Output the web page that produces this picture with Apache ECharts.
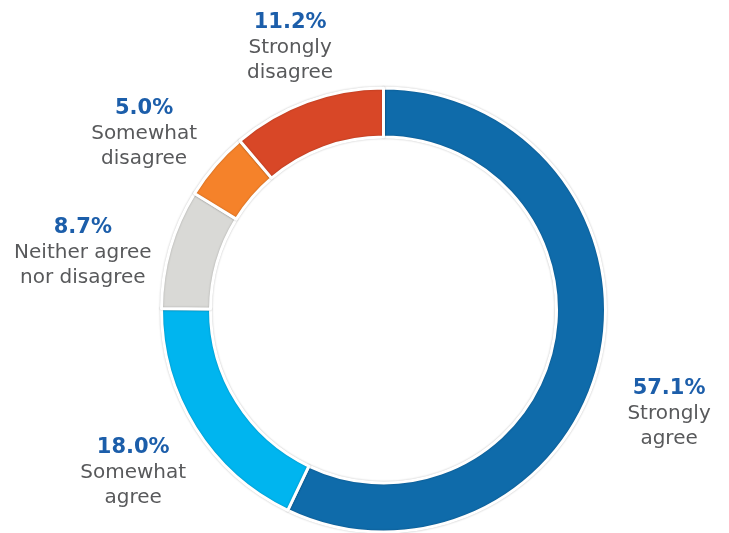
<!DOCTYPE html>
<html><head><meta charset="utf-8">
<script src="https://cdn.jsdelivr.net/npm/echarts@6/dist/echarts.min.js"></script>
<style>html,body{margin:0;padding:0;background:#fff}#c{width:729px;height:533px}</style>
</head><body><div id="c"></div>
<script>
const categories = ['Strongly\nagree', 'Somewhat\nagree', 'Neither agree\nnor disagree', 'Somewhat\ndisagree', 'Strongly\ndisagree'];
const values = [57.1, 18.0, 8.7, 5.0, 11.2];
const colors = ['#0F6BAA', '#00B5EF', '#D9D9D6', '#F5822A', '#D84727'];
// small label nudges (dx, dy) relative to the library's outside label anchor
const labelNudge = [[-7, 37], [4, 3], [-13, 25], [-17, 19], [10, 11]];

const chart = echarts.init(document.getElementById('c'));
chart.setOption({
  animation: false,
  series: [{
    type: 'pie',
    center: [383.5, 310],
    radius: [173, 222],
    startAngle: 90,
    clockwise: true,
    silent: true,
    data: categories.map((c, i) => ({ name: c, value: values[i], itemStyle: { color: colors[i] } })),
    itemStyle: { borderColor: '#fff', borderWidth: 3, shadowBlur: 2, shadowColor: 'rgba(0,0,0,0.25)' },
    labelLine: { show: false, length: 78, length2: 0 },
    label: {
      show: true,
      position: 'outside',
      overflow: 'none',
      distanceToLabelLine: 0,
      formatter: p => '{v|' + p.value.toFixed(1) + '%}\n' + p.name.split('\n').map(s => '{n|' + s + '}').join('\n'),
      rich: {
        v: { fontFamily: 'DejaVu Sans', fontWeight: 'bold', fontSize: 21, color: '#1C5EAA', lineHeight: 26, align: 'center' },
        n: { fontFamily: 'DejaVu Sans', fontSize: 20, color: '#58595B', lineHeight: 25, align: 'center' }
      }
    },
    labelLayout: p => ({ align: 'center', verticalAlign: 'middle', dx: labelNudge[p.dataIndex][0], dy: labelNudge[p.dataIndex][1] })
  }]
});
</script></body></html>
